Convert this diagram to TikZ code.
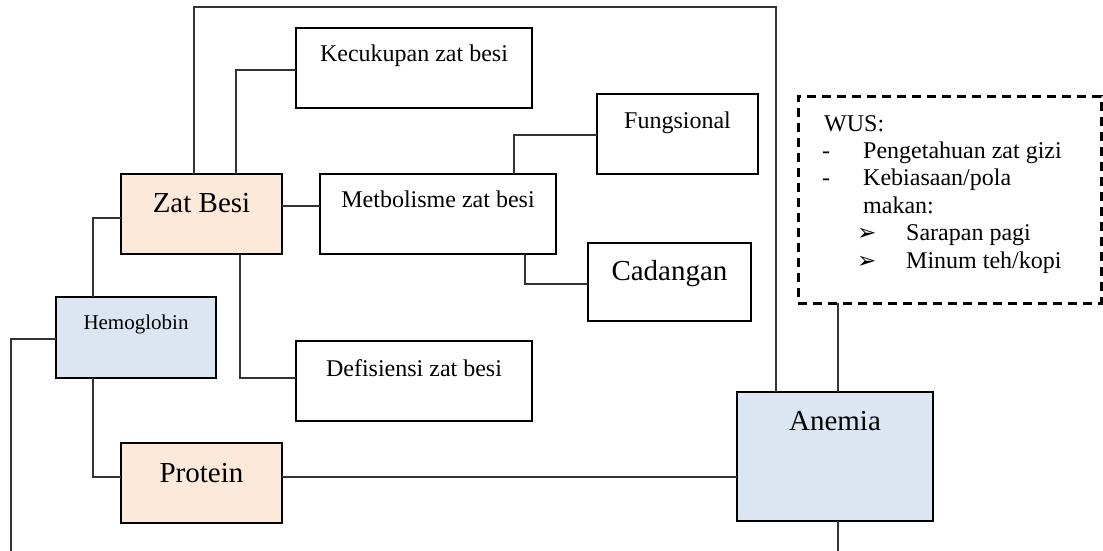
\documentclass[tikz,border=0pt]{standalone}
\usepackage{fontspec}
\setmainfont{Liberation Serif}
\newfontfamily\dejavu{DejaVu Sans}
\usetikzlibrary{calc}
\definecolor{peach}{HTML}{FDE9DA}
\definecolor{paleblue}{HTML}{DCE6F2}
\tikzset{
  boxnode/.style={draw=black, line width=2.5pt, inner sep=0pt, outer sep=0pt, anchor=north, align=center},
  bigtext/.style={font=\fontsize{29}{33}\selectfont},
  midtext/.style={font=\fontsize{24}{27}\selectfont},
  smalltext/.style={font=\fontsize{21}{24}\selectfont},
  conn/.style={draw=black!80, line width=1.1pt},
  wusbox/.style={draw=black, line width=3pt, dash pattern=on 9pt off 6pt, inner sep=0pt, outer sep=0pt, anchor=north west}
}
\newcommand{\wusarrow}{{\dejavu\fontsize{23}{24}\selectfont ➢}}
\begin{document}
\begin{tikzpicture}[x=1pt,y=-1pt]
\useasboundingbox (0,0) rectangle (1103,551);
% boxes
\node[boxnode, bigtext, fill=peach, minimum width=161pt, text height=38pt, text depth=42pt] (zat) at (201.5,174) {Zat Besi};
\node[boxnode, midtext, minimum width=236pt, text height=34pt, text depth=46pt] (kec) at (414,28) {Kecukupan zat besi};
\node[boxnode, midtext, minimum width=236pt, text height=33pt, text depth=47pt] (met) at (438,174) {Metbolisme zat besi};
\node[boxnode, midtext, minimum width=161pt, text height=34pt, text depth=46pt] (fung) at (677.5,94) {Fungsional};
\node[boxnode, bigtext, minimum width=163pt, text height=37pt, text depth=41pt] (cad) at (669.5,243) {Cadangan};
\node[boxnode, midtext, minimum width=236pt, text height=35pt, text depth=45pt] (def) at (414,341) {Defisiensi zat besi};
\node[boxnode, smalltext, fill=paleblue, minimum width=160pt, text height=32pt, text depth=49pt] (hemo) at (136,297) {Hemoglobin};
\node[boxnode, bigtext, fill=peach, minimum width=161pt, text height=39pt, text depth=41pt] (prot) at (201.5,443) {Protein};
\node[boxnode, bigtext, fill=paleblue, minimum width=196pt, text height=38pt, text depth=91pt] (anemia) at (835,392) {Anemia};
\node[wusbox, minimum width=303pt, minimum height=207pt] (wus) at (798,96) {};
\node[anchor=base west, inner sep=0pt, font=\fontsize{24}{27.4}\selectfont] (wustext) at (822,131) {%
\begin{tabular}[t]{@{}p{35pt}@{}p{49pt}@{}l@{}}
\multicolumn{3}{@{}l@{}}{\hspace{2pt}WUS:}\\
- & \multicolumn{2}{l@{}}{Pengetahuan zat gizi}\\
- & \multicolumn{2}{l@{}}{Kebiasaan/pola}\\
 & \multicolumn{2}{l@{}}{makan:}\\
 & \wusarrow & Sarapan pagi\\
 & \wusarrow & Minum teh/kopi
\end{tabular}};
% free ends
\coordinate (hend) at (11,551);
\coordinate (aend) at (838,551);
% connectors
\draw[conn] (zat.north -| 194,0) |- (776,7) -- (anemia.north -| 776,0);
\draw[conn] (zat.north -| 236,0) |- (kec.west |- 0,70);
\draw[conn] (zat.east |- 0,206) -- (met.west |- 0,206);
\draw[conn] (met.north -| 514,0) |- (fung.west |- 0,135);
\draw[conn] (met.south -| 525,0) |- (cad.west |- 0,284);
\draw[conn] (zat.south -| 240,0) |- (def.west |- 0,378);
\draw[conn] (zat.west |- 0,218) -| (hemo.north -| 93,0);
\draw[conn] (hemo.south -| 93,0) |- (prot.west |- 0,477);
\draw[conn] (hemo.west |- 0,339) -| (hend);
\draw[conn] (prot.east |- 0,477) -- (anemia.west |- 0,477);
\draw[conn] (wus.south -| 838,0) -- (anemia.north -| 838,0);
\draw[conn] (anemia.south -| 838,0) -- (aend);
\end{tikzpicture}
\end{document}
